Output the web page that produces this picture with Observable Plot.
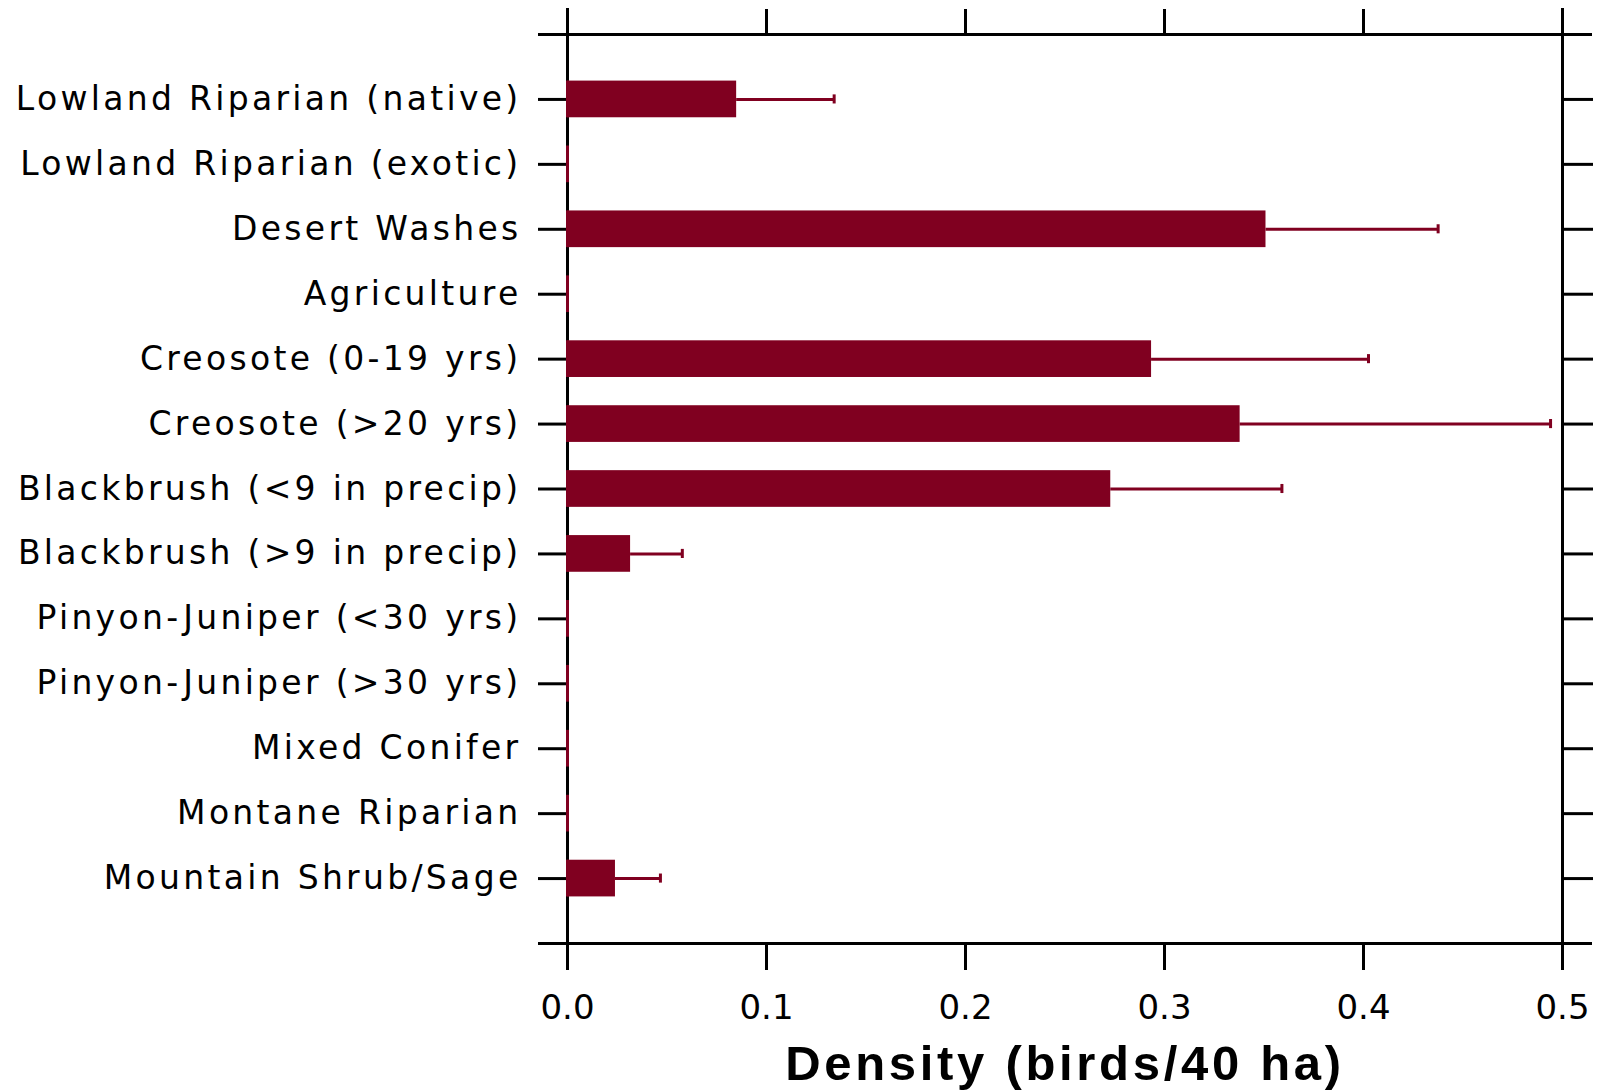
<!DOCTYPE html>
<html>
<head>
<meta charset="utf-8">
<script src="https://cdn.jsdelivr.net/npm/d3@7"></script>
<script src="https://cdn.jsdelivr.net/npm/@observablehq/plot@0.6"></script>
<style>
  html, body { margin: 0; padding: 0; background: #fff; }
  #chart svg { display: block; }
  #chart g[aria-label="x-axis label"] text {
    font-family: "Liberation Sans", Arial, sans-serif;
    font-weight: bold;
    font-size: 49px;
    letter-spacing: 3.7px;
    fill: #000;
  }
  #chart g[aria-label="y-axis tick label"] text {
    letter-spacing: 3.3px;
  }
</style>
</head>
<body>
<div id="chart"></div>
<script>
// ---- data ----
const categories = [
  "Lowland Riparian (native)",
  "Lowland Riparian (exotic)",
  "Desert Washes",
  "Agriculture",
  "Creosote (0-19 yrs)",
  "Creosote (>20 yrs)",
  "Blackbrush (<9 in precip)",
  "Blackbrush (>9 in precip)",
  "Pinyon-Juniper (<30 yrs)",
  "Pinyon-Juniper (>30 yrs)",
  "Mixed Conifer",
  "Montane Riparian",
  "Mountain Shrub/Sage"
];
const density  = [0.085, 0, 0.351, 0, 0.2935, 0.338, 0.273, 0.0317, 0, 0, 0, 0, 0.0241];
const stdError = [0.049, 0, 0.0865, 0, 0.109, 0.156, 0.086, 0.026, 0, 0, 0, 0, 0.0226];
const xTicks = [0, 0.1, 0.2, 0.3, 0.4, 0.5];
const xLabel = "Density (birds/40 ha)";

// ---- table built from the arrays ----
const data = categories.map((c, i) => ({
  category: c, pos: i + 1, density: density[i], se: stdError[i]
}));
const withErr = data.filter(d => d.se > 0);
const positions = data.map(d => d.pos);

const half = 0.2825;   // half bar thickness in category units
const cap = 0.07;      // half cap height in category units
const red = "#800020";

const plot = Plot.plot({
  width: 1600,
  height: 1091,
  marginLeft: 567,
  marginRight: 38,
  marginTop: 34,
  marginBottom: 148,
  style: { background: "#fff", fontFamily: "'DejaVu Sans', sans-serif", color: "#000" },
  x: { domain: [0, 0.5] },
  y: { domain: [0, categories.length + 1], reverse: true },
  marks: [
    // frame lines extended by tick length
    Plot.ruleX([0, 0.5], { stroke: "#000", strokeWidth: 3, insetTop: -26, insetBottom: -27 }),
    Plot.ruleY([0, categories.length + 1], { stroke: "#000", strokeWidth: 3, insetLeft: -29, insetRight: -30 }),
    // axes
    Plot.axisX({ anchor: "top", ticks: xTicks, tickSize: 26, tickFormat: () => "", label: null, strokeWidth: 3 }),
    Plot.axisX({
      anchor: "bottom", ticks: xTicks, tickSize: 27, tickPadding: 24,
      tickFormat: d3.format(".1f"), fontSize: 34,
      label: xLabel, labelAnchor: "center", labelOffset: 136, labelArrow: false, strokeWidth: 3
    }),
    Plot.axisY({
      anchor: "left", ticks: positions, tickSize: 29, tickPadding: 17,
      tickFormat: p => categories[p - 1], fontSize: 33, label: null, strokeWidth: 3
    }),
    Plot.axisY({ anchor: "right", ticks: positions, tickSize: 30, tickFormat: () => "", label: null, strokeWidth: 3 }),
    // bars
    Plot.rect(data, { x1: 0, x2: "density", y1: d => d.pos - half, y2: d => d.pos + half, fill: red }),
    Plot.ruleX(data, { x: 0, y1: d => d.pos - half, y2: d => d.pos + half, stroke: red, strokeWidth: 3 }),
    // error bars
    Plot.ruleY(withErr, { x1: "density", x2: d => d.density + d.se, y: "pos", stroke: red, strokeWidth: 3 }),
    Plot.ruleX(withErr, { x: d => d.density + d.se, y1: d => d.pos - cap, y2: d => d.pos + cap, stroke: red, strokeWidth: 3 })
  ]
});

document.getElementById("chart").appendChild(plot);
</script>
</body>
</html>
